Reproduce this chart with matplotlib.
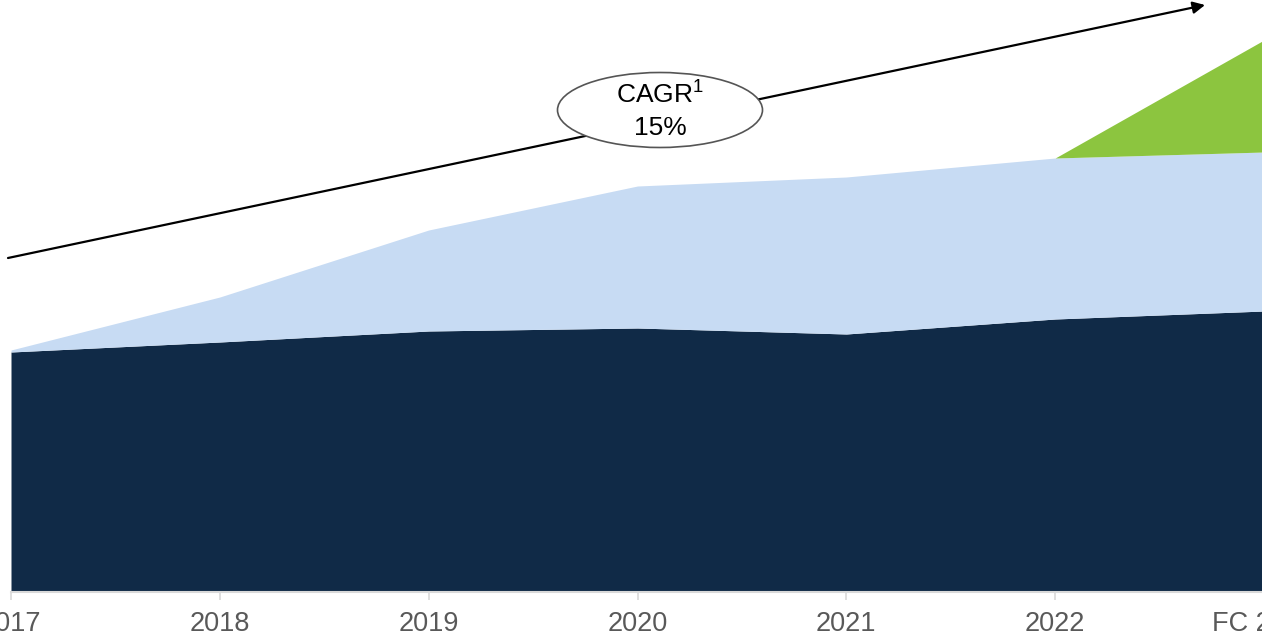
import matplotlib.pyplot as plt
from matplotlib.patches import Ellipse

plt.rcParams['font.family'] = ['Liberation Sans', 'DejaVu Sans']
plt.rcParams['mathtext.fontset'] = 'custom'
plt.rcParams['mathtext.rm'] = 'Liberation Sans'

# data (arbitrary units)
years = ["2017", "2018", "2019", "2020", "2021", "2022", "FC 2023"]
core = [240, 250, 261, 264, 258, 273, 281]
growth = [2, 45, 101, 142, 157, 161, 159]
new_biz = [0, 0, 0, 0, 0, 0, 112]

fig = plt.figure(figsize=(12.62, 6.42), dpi=100)
W, H = 1262, 642
ax = fig.add_axes([11 / W, 1 - 592 / H, 1253 / W, 592 / H])

x = list(range(len(years)))
# green only on the last segment
green_x = x[-2:]
green_base = [c + g for c, g in zip(core, growth)][-2:]
green_top = [b + n for b, n in zip(green_base, new_biz[-2:])]

ax.fill_between(x, 0, core, color="#102a47", linewidth=0)
top2 = [c + g for c, g in zip(core, growth)]
ax.fill_between(x, core, top2, color="#c7dbf3", linewidth=0)
ax.fill_between(green_x, green_base, green_top, color="#8cc53f", linewidth=0)

ax.set_xlim(0, len(years) - 1)
ax.set_ylim(0, 592)
ax.set_xticks(x)
ax.set_xticklabels(years, fontsize=19.5, color="#595959")
ax.tick_params(axis="x", length=6, width=1.2, color="#d9d9d9", pad=8)
ax.set_yticks([])
for s in ["top", "left", "right"]:
    ax.spines[s].set_visible(False)
ax.spines["bottom"].set_color("#d9d9d9")
ax.spines["bottom"].set_linewidth(1.5)

# CAGR arrow
ax.annotate("", xy=(1205, H - 5), xycoords="figure pixels",
            xytext=(8, H - 258), textcoords="figure pixels",
            arrowprops=dict(arrowstyle="-|>", color="black", lw=1.6,
                            mutation_scale=18, shrinkA=0, shrinkB=0))

ell = Ellipse((660 / W, 1 - 110 / H), 205 / W, 75 / H, transform=fig.transFigure,
              facecolor="white", edgecolor="#555555", linewidth=1.2, zorder=5)
fig.patches.append(ell)
fig.text(660 / W, 1 - 94 / H, "CAGR$^{\\mathrm{1}}$", ha="center", va="center",
         fontsize=19, zorder=6)
fig.text(660 / W, 1 - 128 / H, "15%", ha="center", va="center",
         fontsize=19, zorder=6)

fig.savefig("out.png", dpi=100)
